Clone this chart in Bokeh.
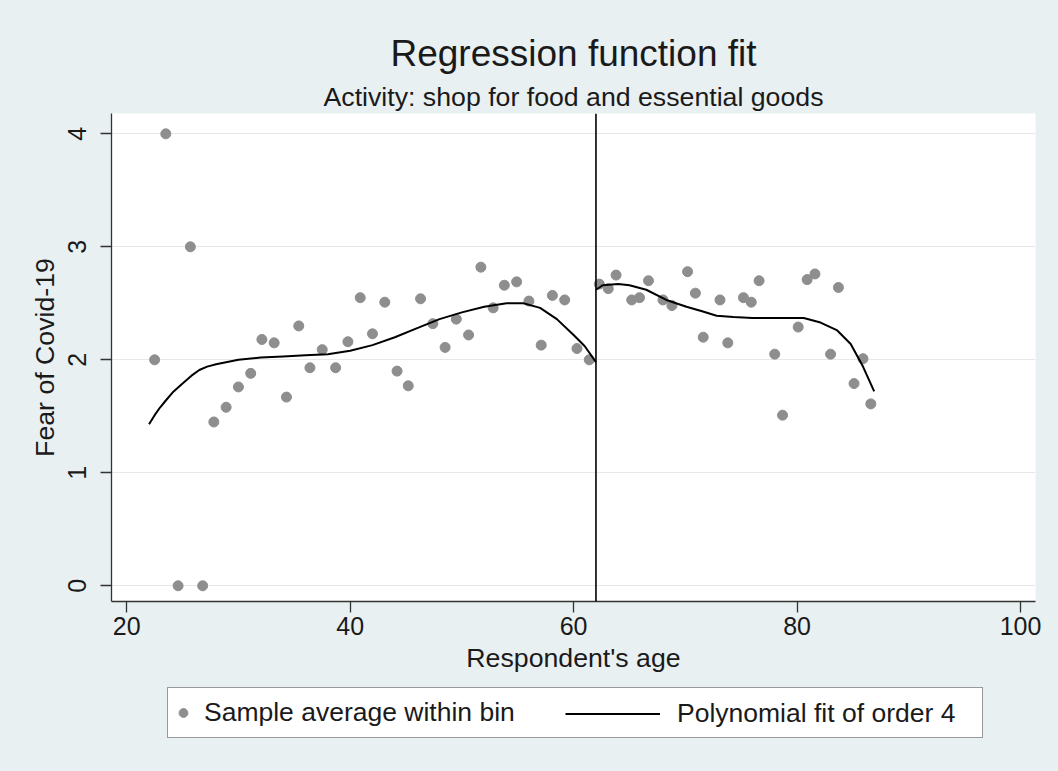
from bokeh.plotting import figure
from bokeh.models import (Span, Title, Legend, LegendItem, Range1d, FixedTicker)
from bokeh.layouts import column
from bokeh.embed import file_html
from bokeh.resources import INLINE

# ---- data ----
bin_age_left = [22.5, 23.5, 24.6, 25.7, 26.8, 27.8, 28.9, 30.0, 31.1, 32.1, 33.2, 34.3,
                35.4, 36.4, 37.5, 38.7, 39.8, 40.9, 42.0, 43.1, 44.2, 45.2, 46.3, 47.4,
                48.5, 49.5, 50.6, 51.7, 52.8, 53.8, 54.9, 56.0, 57.1, 58.1, 59.2, 60.3, 61.4]
bin_fear_left = [2.00, 4.00, 0.00, 3.00, 0.00, 1.45, 1.58, 1.76, 1.88, 2.18, 2.15, 1.67,
                 2.30, 1.93, 2.09, 1.93, 2.16, 2.55, 2.23, 2.51, 1.90, 1.77, 2.54, 2.32,
                 2.11, 2.36, 2.22, 2.82, 2.46, 2.66, 2.69, 2.52, 2.13, 2.57, 2.53, 2.10, 2.00]
bin_age_right = [62.3, 63.1, 63.8, 65.2, 65.9, 66.7, 68.0, 68.8, 70.2, 70.9, 71.6, 73.1,
                 73.8, 75.2, 75.9, 76.6, 78.0, 78.7, 80.1, 80.9, 81.6, 83.0, 83.7, 85.1,
                 85.9, 86.6]
bin_fear_right = [2.67, 2.63, 2.75, 2.53, 2.55, 2.70, 2.53, 2.48, 2.78, 2.59, 2.20, 2.53,
                  2.15, 2.55, 2.51, 2.70, 2.05, 1.51, 2.29, 2.71, 2.76, 2.05, 2.64, 1.79,
                  2.01, 1.61]

fit_age_left = [22.0, 22.5, 23.0, 23.5, 24.2, 25.0, 25.8, 26.5, 27.2, 28.0, 29.0, 30.0,
                32.0, 34.0, 36.0, 38.0, 40.0, 42.0, 44.0, 46.0, 48.0, 50.0, 52.0, 54.0,
                55.5, 57.0, 58.5, 60.0, 61.0, 62.0]
fit_fear_left = [1.43, 1.51, 1.58, 1.64, 1.72, 1.79, 1.86, 1.91, 1.94, 1.96, 1.98, 2.00,
                 2.02, 2.03, 2.04, 2.05, 2.08, 2.13, 2.20, 2.28, 2.36, 2.42, 2.47, 2.50,
                 2.50, 2.46, 2.36, 2.22, 2.12, 1.98]
fit_age_right = [62.0, 62.6, 64.0, 65.0, 66.5, 68.3, 70.1, 71.5, 72.8, 74.3, 76.0, 78.0,
                 80.6, 82.1, 83.6, 84.8, 85.9, 86.9]
fit_fear_right = [2.62, 2.66, 2.67, 2.66, 2.62, 2.53, 2.47, 2.43, 2.39, 2.38, 2.37, 2.37,
                  2.37, 2.33, 2.26, 2.14, 1.94, 1.72]

cutoff_age = 62
x_ticks = [20, 40, 60, 80, 100]
y_ticks = [0, 1, 2, 3, 4]
legend_labels = ["Sample average within bin", "Polynomial fit of order 4"]

FONT = "Liberation Sans"
BG = "#e9f0f2"
TXT = "#1a1a1a"
PT = "#8e8e8e"

p = figure(width=1058, height=682, output_backend="svg", toolbar_location=None,
           x_range=Range1d(18.64, 101.34), y_range=Range1d(-0.139, 4.18),
           min_border_left=111, min_border_right=23, min_border_top=113,
           min_border_bottom=81)
p.background_fill_color = "white"
p.border_fill_color = BG
p.outline_line_color = None

# titles (subtitle first -> closest to frame)
p.add_layout(Title(text="Activity: shop for food and essential goods", align="center",
                   text_font=FONT, text_font_size="26.7px", text_font_style="normal",
                   text_color=TXT, standoff=4), "above")
p.add_layout(Title(text="Regression function fit", align="center",
                   text_font=FONT, text_font_size="37px", text_font_style="normal",
                   text_color=TXT, standoff=7), "above")

# grid
p.xgrid.visible = False
p.ygrid.ticker = FixedTicker(ticks=y_ticks)
p.ygrid.grid_line_color = "#e6e9ea"
p.ygrid.grid_line_width = 1

# axes
for ax in (p.xaxis[0], p.yaxis[0]):
    ax.axis_line_color = "#333333"
    ax.axis_line_width = 1.3
    ax.major_tick_line_color = "#333333"
    ax.major_tick_line_width = 1.3
    ax.major_tick_out = 11
    ax.major_tick_in = 0
    ax.minor_tick_line_color = None
    ax.major_label_text_font = FONT
    ax.major_label_text_font_size = "25px"
    ax.major_label_text_color = TXT
    ax.axis_label_text_font = FONT
    ax.axis_label_text_font_size = "26.7px"
    ax.axis_label_text_font_style = "normal"
    ax.axis_label_text_color = TXT

p.xaxis.ticker = FixedTicker(ticks=x_ticks)
p.yaxis.ticker = FixedTicker(ticks=y_ticks)
p.xaxis.axis_label = "Respondent's age"
p.yaxis.axis_label = "Fear of Covid-19"
p.yaxis.major_label_orientation = "vertical"
p.xaxis.major_label_standoff = 4
p.xaxis.axis_label_standoff = 5
p.yaxis.major_label_standoff = 14
p.yaxis.axis_label_standoff = 6

# glyphs
p.scatter(bin_age_left, bin_fear_left, size=10, marker="circle",
          fill_color=PT, line_color=PT)
p.scatter(bin_age_right, bin_fear_right, size=10, marker="circle",
          fill_color=PT, line_color=PT)
p.line(fit_age_left, fit_fear_left, line_color="black", line_width=2)
p.line(fit_age_right, fit_fear_right, line_color="black", line_width=2)

p.add_layout(Span(location=cutoff_age, dimension="height", line_color="black",
                  line_width=1.6))

# ---- legend strip below the plot (frame aligned with the plot above) ----
lg = figure(width=1058, height=89, output_backend="svg", toolbar_location=None,
            x_axis_type=None, y_axis_type=None,
            x_range=Range1d(18.64, 101.34), y_range=Range1d(10, 11),
            min_border_left=111, min_border_right=23, min_border_top=0,
            min_border_bottom=0)
lg.background_fill_color = BG
lg.border_fill_color = BG
lg.outline_line_color = None
lg.xgrid.visible = False
lg.ygrid.visible = False
# same series as above (they fall outside this strip's y range; used as legend keys)
key_pts = lg.scatter(bin_age_left, bin_fear_left, size=10, marker="circle",
                     fill_color=PT, line_color=PT)
key_fit = lg.line(fit_age_left, fit_fear_left, line_color="black", line_width=2)

leg_a = Legend(items=[LegendItem(label=legend_labels[0], renderers=[key_pts])],
               location=(56, 33), orientation="horizontal",
               glyph_width=22, glyph_height=41, label_standoff=10, label_width=774,
               padding=4, margin=0, spacing=0,
               label_text_font=FONT, label_text_font_size="26.5px", label_text_color=TXT,
               border_line_color="#333333", border_line_width=1.3,
               background_fill_color="white", background_fill_alpha=1.0)
leg_b = Legend(items=[LegendItem(label=legend_labels[1], renderers=[key_fit])],
               location=(450, 33), orientation="horizontal",
               glyph_width=95, glyph_height=41, label_standoff=17,
               padding=4, margin=0, spacing=0,
               label_text_font=FONT, label_text_font_size="26.5px", label_text_color=TXT,
               border_line_alpha=0.0, background_fill_alpha=0.0)
lg.add_layout(leg_a)
lg.add_layout(leg_b)

layout = column(p, lg, spacing=0, styles={"background-color": BG})
open("out.html", "w").write(file_html(layout, INLINE))
